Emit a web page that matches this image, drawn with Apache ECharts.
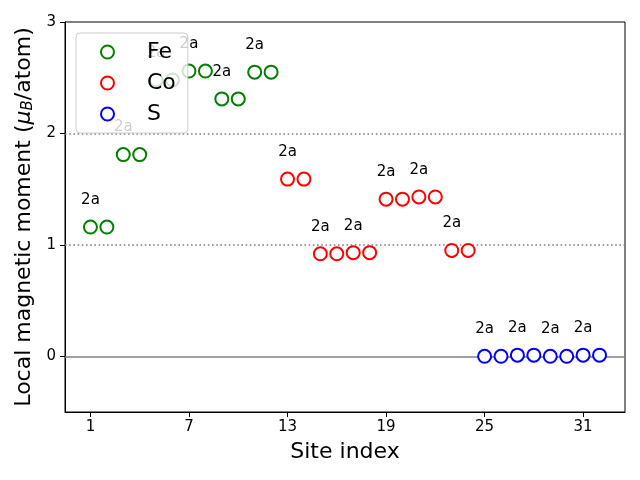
<!DOCTYPE html>
<html>
<head>
<meta charset="utf-8">
<script src="https://cdn.jsdelivr.net/npm/echarts@6/dist/echarts.min.js"></script>
<style>html,body{margin:0;padding:0;background:#fff}#c{width:640px;height:480px}</style>
</head>
<body>
<div id="c"></div>
<script>
// ---- data ----
const feSites = [1,2,3,4,5,6,7,8,9,10,11,12];
const feMoments = [1.16,1.16,1.81,1.81,2.48,2.48,2.56,2.56,2.31,2.31,2.55,2.55];
const coSites = [13,14,15,16,17,18,19,20,21,22,23,24];
const coMoments = [1.59,1.59,0.92,0.92,0.93,0.93,1.41,1.41,1.43,1.43,0.95,0.95];
const sSites = [25,26,27,28,29,30,31,32];
const sMoments = [0.00,0.00,0.01,0.01,0.00,0.00,0.01,0.01];
const labelSites = [1,3,5,7,9,11,13,15,17,19,21,23,25,27,29,31];
const wyckoffLabel = '2a';
const xTicks = [1,7,13,19,25,31];
const yTicks = [0,1,2,3];
const refLinesDotted = [1,2];
const refLineSolid = [0];

const FONT = 'DejaVu Sans';

function build(sites, vals){
  return sites.map((s,i)=>({
    value:[s, vals[i]],
    label:{show: labelSites.indexOf(s) >= 0}
  }));
}
function series(name, color, sites, vals){
  return {
    name, type:'scatter', symbol:'emptyCircle', symbolSize:13,
    itemStyle:{color:color, borderColor:color, borderWidth:1.3, opacity:1},
    label:{show:false, formatter:wyckoffLabel, position:'top', distance:12,
      color:'#000', fontSize:15, fontFamily:FONT, opacity:1, textBorderWidth:0},
    emphasis:{disabled:true},
    data: build(sites, vals), z:3
  };
}

const chart = echarts.init(document.getElementById('c'), null, {renderer:'canvas'});
const s0 = series('Fe','green',feSites,feMoments);
s0.markLine = {
  silent:true, symbol:'none', label:{show:false}, animation:false,
  data: [
    ...refLineSolid.map(v=>({yAxis:v, lineStyle:{color:'#808080', width:1.6, type:'solid', opacity:1}})),
    ...refLinesDotted.map(v=>({yAxis:v, lineStyle:{color:'#808080', width:1.6, type:[1.6,2.6], opacity:1}}))
  ],
  z:1
};
chart.setOption({
  animation:false,
  backgroundColor:'#fff',
  textStyle:{fontFamily:FONT},
  grid:{left:65, right:15, top:22, bottom:68, show:true, borderColor:'#000', borderWidth:1, backgroundColor:'transparent'},
  legend:{
    orient:'vertical', left:76, top:33,
    padding:[8,12,8,24], itemGap:9, itemWidth:13, itemHeight:13,
    backgroundColor:'rgba(255,255,255,0.8)', borderColor:'#cccccc', borderWidth:1, borderRadius:4,
    textStyle:{fontSize:22, color:'#000', fontFamily:FONT, padding:[0,0,0,28], lineHeight:22},
    data:['Fe','Co','S']
  },
  xAxis:{
    type:'value', min:-0.55, max:33.55,
    name:'Site index', nameLocation:'middle', nameGap:29,
    nameTextStyle:{fontSize:22, color:'#000', fontFamily:FONT},
    axisLine:{show:true, onZero:false, lineStyle:{color:'#000', width:1}},
    axisTick:{show:true, length:5, customValues:xTicks, lineStyle:{color:'#000'}},
    axisLabel:{fontSize:15, color:'#000', margin:8, customValues:xTicks, fontFamily:FONT},
    splitLine:{show:false}
  },
  yAxis:{
    type:'value', min:-0.5, max:3,
    name:'Local magnetic moment ({mu|μ}{sub|B}/atom)', nameLocation:'middle', nameGap:25,
    nameTextStyle:{fontSize:22, color:'#000', fontFamily:FONT,
      rich:{mu:{fontSize:22, fontStyle:'italic', color:'#000', fontFamily:FONT},
            sub:{fontSize:15, fontStyle:'italic', color:'#000', fontFamily:FONT, verticalAlign:'bottom', padding:[8,0,0,0]}}},
    axisLine:{show:true, onZero:false, lineStyle:{color:'#000', width:1}},
    axisTick:{show:true, length:5, customValues:yTicks, lineStyle:{color:'#000'}},
    axisLabel:{fontSize:15, color:'#000', margin:9, customValues:yTicks, fontFamily:FONT},
    splitLine:{show:false}
  },
  series:[s0, series('Co','red',coSites,coMoments), series('S','blue',sSites,sMoments)]
});
</script>
</body>
</html>
